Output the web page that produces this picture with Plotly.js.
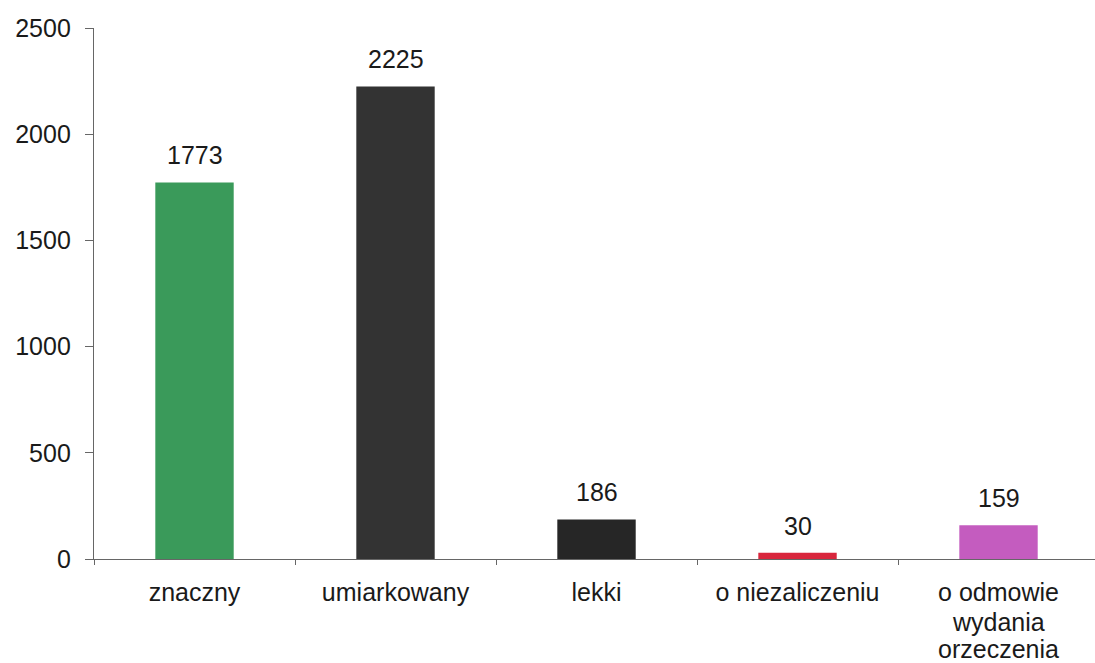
<!DOCTYPE html>
<html>
<head>
<meta charset="utf-8">
<script src="https://cdn.plot.ly/plotly-3.0.1.min.js"></script>
<style>html,body{margin:0;padding:0;background:#fff;}#chart{width:1095px;height:663px;}</style>
</head>
<body>
<div id="chart"></div>
<script>
const categories = ["znaczny", "umiarkowany", "lekki", "o niezaliczeniu", "o odmowie wydania orzeczenia"];
const tickLines = [["znaczny"], ["umiarkowany"], ["lekki"], ["o niezaliczeniu"], ["o odmowie", "wydania", "orzeczenia"]];
const values = [1773, 2225, 186, 30, 159];
const colors = ["#3a9a5a", "#333333", "#262626", "#d8263c", "#c45cbf"];
const yTicks = [0, 500, 1000, 1500, 2000, 2500];

const FONT = "Liberation Sans, Arial, sans-serif";
const FS = 25;

const trace = {
  type: "bar",
  x: categories,
  y: values,
  width: 0.39,
  marker: {color: colors, line: {width: 0}},
  hoverinfo: "none"
};

const annotations = categories.map((c, i) => ({
  x: c, y: values[i], xref: "x", yref: "y",
  text: String(values[i]),
  showarrow: false, yanchor: "bottom", yshift: 11,
  font: {family: FONT, size: FS, color: "#1a1a1a"}
}));
// extra lines of multi-line category labels
tickLines.forEach((lines, i) => {
  lines.slice(1).forEach((ln, k) => {
    annotations.push({
      x: categories[i], y: 0, xref: "x", yref: "paper",
      text: ln, showarrow: false, yanchor: "top", yshift: -47 - 27 * k,
      font: {family: FONT, size: FS, color: "#1a1a1a"}
    });
  });
});

const layout = {
  width: 1095, height: 663,
  margin: {l: 94, r: 0, t: 28, b: 104},
  paper_bgcolor: "#ffffff", plot_bgcolor: "#ffffff",
  showlegend: false,
  xaxis: {
    type: "category",
    range: [-0.5, 4.48],
    tickvals: categories, ticktext: tickLines.map(l => l[0]),
    showline: true, linecolor: "#666666", linewidth: 1.2,
    ticks: "outside", tickson: "boundaries", ticklen: 5, tickcolor: "#666666",
    ticklabelstandoff: 11,
    showgrid: false, zeroline: false,
    tickfont: {family: FONT, size: FS, color: "#1a1a1a"}
  },
  yaxis: {
    range: [0, 2500],
    tickvals: yTicks, ticktext: yTicks.map(String),
    showline: true, linecolor: "#666666", linewidth: 1.2,
    ticks: "outside", ticklen: 8, tickcolor: "#666666",
    ticklabelstandoff: 9,
    showgrid: false, zeroline: false,
    tickfont: {family: FONT, size: FS, color: "#1a1a1a"}
  },
  annotations: annotations
};

Plotly.newPlot("chart", [trace], layout, {displayModeBar: false, staticPlot: true});
</script>
</body>
</html>
